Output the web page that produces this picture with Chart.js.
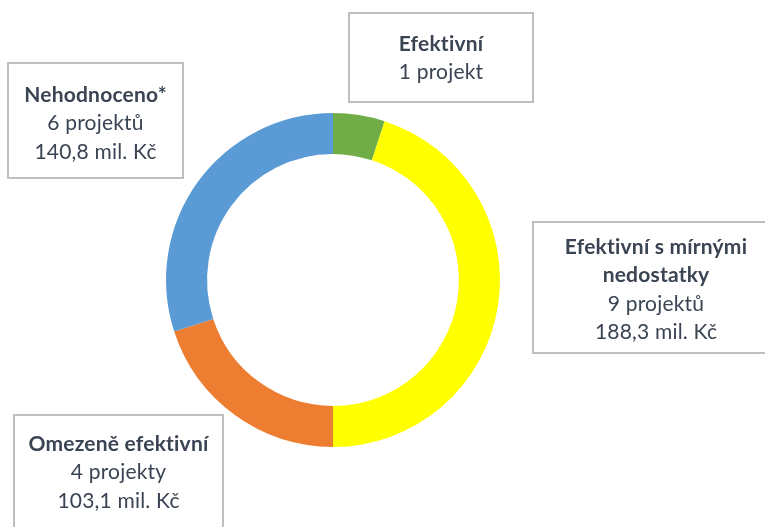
<!DOCTYPE html>
<html>
<head>
<meta charset="utf-8">
<script src="https://cdn.jsdelivr.net/npm/chart.js@4"></script>
<style>
  html, body { margin: 0; padding: 0; background: #fff; }
  #wrap { position: relative; width: 765px; height: 527px; }
</style>
</head>
<body>
<div id="wrap"><canvas id="chart" width="765" height="527"></canvas></div>
<script>
// Hodnocení projektů
const categories = [
  ["Efektivní"],
  ["Efektivní s mírnými", "nedostatky"],
  ["Omezeně efektivní"],
  ["Nehodnoceno*"],
];
const projectCounts = [1, 9, 4, 6];
const amountsMil = [null, 188.3, 103.1, 140.8];
const colors = ["#70AD47", "#FFFF00", "#ED7D31", "#5B9BD5"];

// label boxes: [left, top, right, bottom]
const boxes = [
  [349, 13, 533, 102],
  [533, 222, 779, 353],
  [14, 415, 223, 540],
  [8, 63, 183, 178],
];
const boxLineTops = [44, 247, 444, 95];

function projWord(n) {
  if (n === 1) return n + " projekt";
  if (n >= 2 && n <= 4) return n + " projekty";
  return n + " projektů";
}
function fmtAmount(v) {
  return v.toFixed(1).replace(".", ",") + " mil. Kč";
}

const FONT = "Lato, 'Open Sans', sans-serif";
const TEXT = "#3A4453";
const LINE_H = 28.5;

const boxLabels = {
  id: "boxLabels",
  afterDraw(chart) {
    const ctx = chart.ctx;
    ctx.save();
    ctx.letterSpacing = "0.2px"; // also stops the "ti" ligature
    categories.forEach((lines, i) => {
      const [l, t, r, b] = boxes[i];
      ctx.fillStyle = "#fff";
      ctx.fillRect(l, t, r - l, b - t);
      ctx.strokeStyle = "#BFBFBF";
      ctx.lineWidth = 2;
      ctx.strokeRect(l, t, r - l, b - t);
      const cx = (l + r) / 2;
      let y = boxLineTops[i];
      ctx.textAlign = "center";
      ctx.textBaseline = "middle";
      ctx.fillStyle = TEXT;
      ctx.font = "bold 21px " + FONT;
      lines.forEach(s => { ctx.fillText(s, cx, y); y += LINE_H; });
      ctx.font = "21px " + FONT;
      ctx.fillText(projWord(projectCounts[i]), cx, y);
      y += LINE_H;
      if (amountsMil[i] != null) ctx.fillText(fmtAmount(amountsMil[i]), cx, y);
    });
    ctx.restore();
  }
};

new Chart(document.getElementById("chart"), {
  type: "doughnut",
  data: {
    labels: categories.map(c => c.join(" ")),
    datasets: [{
      data: projectCounts,
      backgroundColor: colors,
      borderWidth: 0,
    }],
  },
  options: {
    responsive: false,
    animation: false,
    cutout: "75.4%",
    layout: { padding: { left: 166, top: 113, right: 265, bottom: 80 } },
    plugins: {
      legend: { display: false },
      tooltip: { enabled: false },
    },
  },
  plugins: [boxLabels],
});
</script>
</body>
</html>
